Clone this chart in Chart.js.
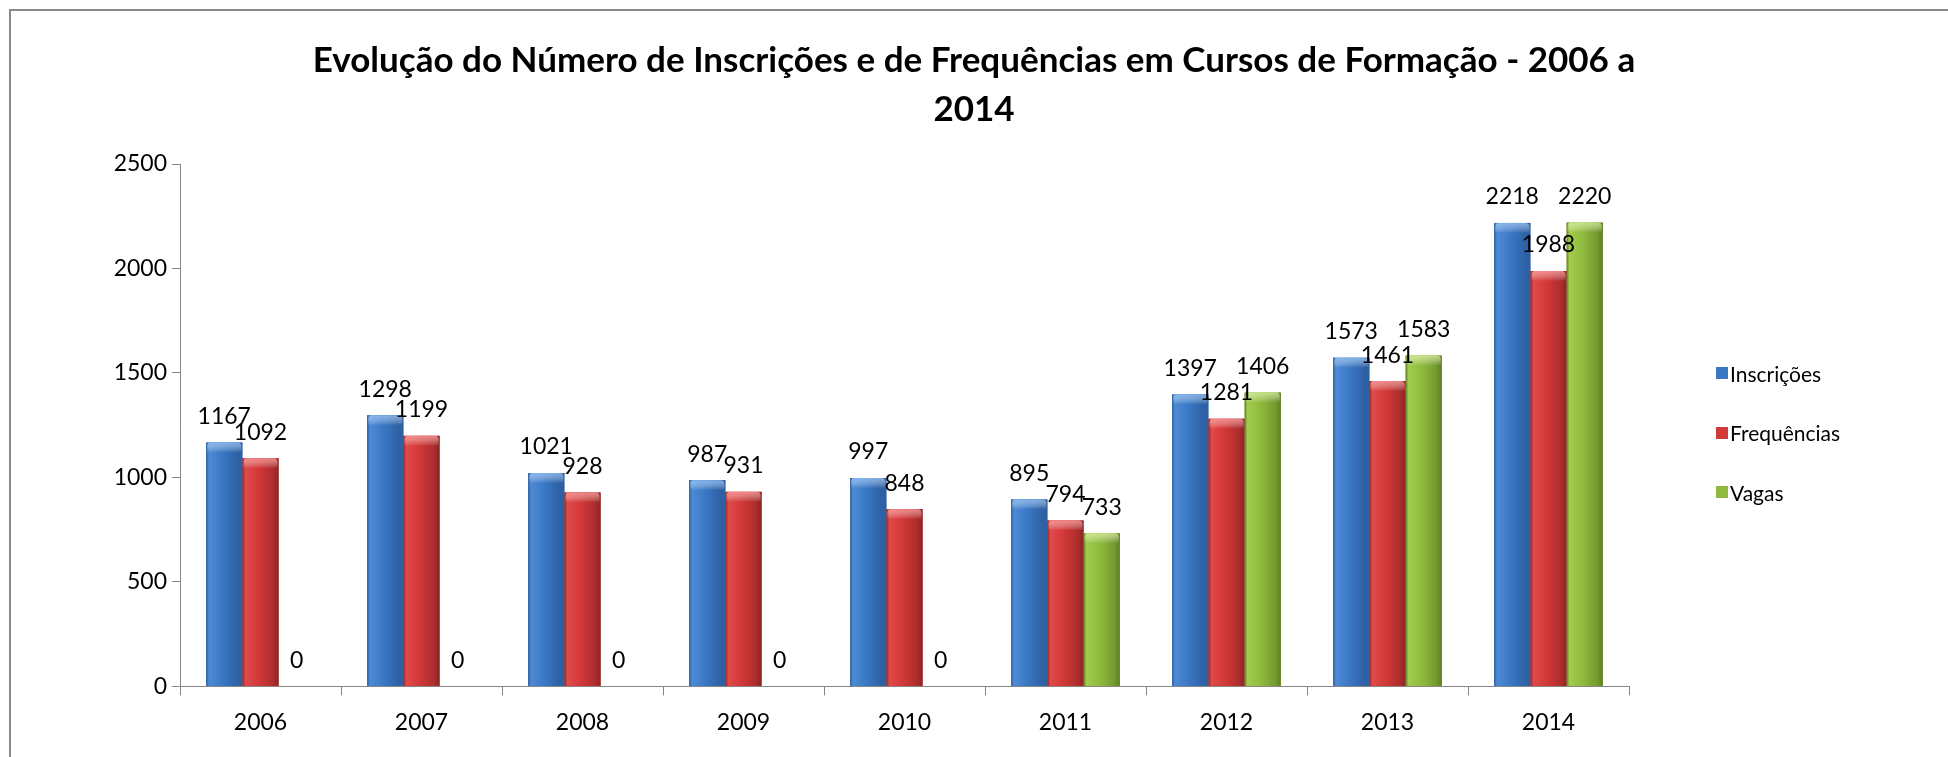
<!DOCTYPE html>
<html lang="pt">
<head>
<meta charset="utf-8">
<script src="https://cdn.jsdelivr.net/npm/chart.js@4.4.1/dist/chart.umd.min.js"></script>
<style>
  html, body { margin: 0; padding: 0; background: #fff; }
  #wrap { position: relative; width: 1948px; height: 757px; overflow: hidden; }
  #frame { position: absolute; left: 9px; top: 9px; right: -10px; bottom: -10px;
           border-top: 2px solid #8a8a8a; border-left: 2px solid #8a8a8a; }
  canvas { position: absolute; left: 0; top: 0; }
  #legend { position: absolute; left: 1716px; top: 359px; font-family: Lato, sans-serif; font-size: 21px; color: #000; }
  .item { display: flex; align-items: center; height: 28px; margin-bottom: 31.5px; }
  .box { width: 12px; height: 12px; margin-right: 2px; }
</style>
</head>
<body>
<div id="wrap">
  <div id="frame"></div>
  <canvas id="chart" width="1948" height="757"></canvas>
  <div id="legend"></div>
</div>
<script>
const years = ['2006', '2007', '2008', '2009', '2010', '2011', '2012', '2013', '2014'];
const inscricoes = [1167, 1298, 1021, 987, 997, 895, 1397, 1573, 2218];
const frequencias = [1092, 1199, 928, 931, 848, 794, 1281, 1461, 1988];
const vagas = [0, 0, 0, 0, 0, 733, 1406, 1583, 2220];
const seriesNames = ['Inscrições', 'Frequências', 'Vagas'];
const seriesValues = [inscricoes, frequencias, vagas];
const titleLines = ['Evolução do Número de Inscrições e de Frequências em Cursos de Formação - 2006 a', '2014'];

const seriesColors = ['#3a78c4', '#d23a3a', '#8fba3e'];
const tones = [
  { edge: '#2f5f9e', light: '#4d8bd6', mid: '#3a78c4', dark: '#2e62a6', cap: 'rgba(150,195,245,0.75)' },
  { edge: '#8e2424', light: '#e04a4a', mid: '#d33838', dark: '#ab2d2d', cap: 'rgba(250,160,160,0.75)' },
  { edge: '#5f7d24', light: '#a2cc4c', mid: '#8fba3e', dark: '#739a2e', cap: 'rgba(215,240,160,0.75)' },
];
const axisGray = '#868686';
const tickFont = { family: 'Lato', size: 23 };

// fit title so its first line spans about 1308px, like the original
const mctx = document.createElement('canvas').getContext('2d');
mctx.font = 'bold 100px Lato';
const titleSize = Math.round(100 * 1308 / mctx.measureText(titleLines[0]).width);

// cylinder-like shading over each bar
const shade = {
  id: 'shade',
  afterDatasetsDraw(chart) {
    const ctx = chart.ctx;
    ctx.save();
    chart.data.datasets.forEach((ds, i) => {
      const t = tones[i];
      chart.getDatasetMeta(i).data.forEach(bar => {
        const { x, y, base, width } = bar.getProps(['x', 'y', 'base', 'width'], true);
        const h = base - y;
        if (h < 1) return;
        const l = x - width / 2;
        const g = ctx.createLinearGradient(l, 0, l + width, 0);
        g.addColorStop(0, t.edge);
        g.addColorStop(0.08, t.light);
        g.addColorStop(0.45, t.mid);
        g.addColorStop(0.85, t.dark);
        g.addColorStop(1, t.edge);
        ctx.fillStyle = g;
        ctx.fillRect(l, y, width, h);
        const cap = Math.min(10, h);
        const c = ctx.createLinearGradient(0, y, 0, y + cap);
        c.addColorStop(0, t.cap);
        c.addColorStop(1, 'rgba(255,255,255,0)');
        ctx.fillStyle = c;
        ctx.beginPath();
        ctx.roundRect(l + 1, y, width - 2, cap, [4, 4, 0, 0]);
        ctx.fill();
      });
    });
    ctx.restore();
  }
};

const valueLabels = {
  id: 'valueLabels',
  afterDatasetsDraw(chart) {
    const ctx = chart.ctx;
    ctx.save();
    ctx.font = '23px Lato';
    ctx.fillStyle = '#000';
    ctx.textAlign = 'center';
    ctx.textBaseline = 'middle';
    chart.data.datasets.forEach((ds, i) => {
      chart.getDatasetMeta(i).data.forEach((bar, j) => {
        ctx.fillText(String(ds.data[j]), bar.x, bar.y - 26);
      });
    });
    ctx.restore();
  }
};

new Chart(document.getElementById('chart'), {
  type: 'bar',
  data: {
    labels: years,
    datasets: seriesNames.map((name, i) => ({
      label: name,
      data: seriesValues[i],
      backgroundColor: seriesColors[i],
      borderWidth: 0,
      categoryPercentage: 0.675,
      barPercentage: 1,
    })),
  },
  options: {
    responsive: false,
    animation: false,
    devicePixelRatio: 1,
    layout: { padding: { top: 26, right: 0, bottom: 8, left: 0 } },
    plugins: {
      legend: { display: false },
      tooltip: { enabled: false },
      title: {
        display: true,
        text: titleLines,
        color: '#000',
        font: { family: 'Lato', weight: 'bold', size: titleSize, lineHeight: '49px' },
        padding: { top: 10, bottom: 30 },
      },
    },
    scales: {
      x: {
        grid: { drawOnChartArea: false, drawTicks: true, tickLength: 9, color: axisGray, offset: true },
        border: { color: axisGray, width: 1 },
        ticks: { font: tickFont, color: '#000', padding: 13 },
      },
      y: {
        min: 0,
        max: 2500,
        grid: { drawOnChartArea: false, drawTicks: true, tickLength: 8, color: axisGray },
        border: { color: axisGray, width: 1 },
        ticks: { stepSize: 500, font: tickFont, color: '#000', padding: 5, callback: v => String(v) },
        afterFit(scale) { scale.width = 180; },
      },
      // empty space on the right where the legend sits
      side: {
        axis: 'y',
        position: 'right',
        grid: { display: false },
        border: { display: false },
        ticks: { display: false },
        afterFit(scale) { scale.width = 319; },
      },
    },
  },
  plugins: [shade, valueLabels],
});

const legend = document.getElementById('legend');
seriesNames.forEach((name, i) => {
  const item = document.createElement('div');
  item.className = 'item';
  item.innerHTML = '<span class="box" style="background:' + seriesColors[i] + '"></span>' + name;
  legend.appendChild(item);
});
</script>
</body>
</html>
